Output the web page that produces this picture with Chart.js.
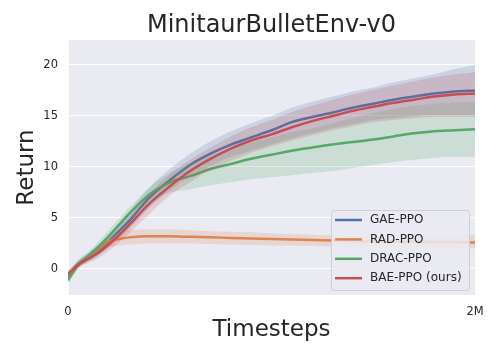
<!DOCTYPE html>
<html lang="en">
<head>
  <meta charset="UTF-8">
  <title>MinitaurBulletEnv-v0</title>
  <script src="https://cdn.jsdelivr.net/npm/chart.js"></script>
  <style>
    body {
      margin: 0;
      background: #ffffff;
    }
    #chart {
      display: block;
    }
  </style>
</head>
<body>
  <canvas id="chart" width="498" height="360"></canvas>

  <script>
    // timesteps in millions
    const steps = [0, 0.05, 0.1, 0.15, 0.2, 0.25, 0.3, 0.4, 0.5, 0.6, 0.7, 0.8, 0.9, 1.0, 1.1, 1.2, 1.3, 1.4, 1.5, 1.6, 1.7, 1.8, 1.9, 2.0];

    const seriesNames = ['GAE-PPO', 'RAD-PPO', 'DRAC-PPO', 'BAE-PPO (ours)'];

    const gaeMean  = [-0.7, 0.5, 1.1, 1.8, 2.7, 3.7, 4.7, 7.0, 8.7, 10.2, 11.3, 12.2, 12.9, 13.6, 14.4, 14.9, 15.35, 15.8, 16.2, 16.6, 16.9, 17.2, 17.4, 17.5];
    const gaeUpper = [-0.3, 0.9, 1.6, 2.4, 3.4, 4.5, 5.6, 8.0, 9.8, 11.3, 12.5, 13.5, 14.3, 15.0, 15.8, 16.4, 16.9, 17.4, 17.8, 18.3, 18.7, 19.1, 19.6, 20.0];
    const gaeLower = [-1.1, 0.2, 0.7, 1.3, 2.1, 3.0, 3.9, 6.0, 7.7, 9.1, 10.1, 11.0, 11.6, 12.2, 12.8, 13.3, 13.8, 14.2, 14.6, 14.8, 15.0, 15.1, 15.1, 15.1];

    const radMean  = [-0.6, 0.4, 1.1, 1.9, 2.7, 2.95, 3.1, 3.2, 3.2, 3.15, 3.1, 3.05, 3.0, 2.95, 2.9, 2.85, 2.8, 2.75, 2.7, 2.7, 2.7, 2.65, 2.65, 2.6];
    const radUpper = [-0.3, 0.7, 1.4, 2.3, 3.2, 3.5, 3.8, 3.9, 3.9, 3.8, 3.7, 3.65, 3.6, 3.5, 3.4, 3.35, 3.3, 3.25, 3.25, 3.3, 3.3, 3.3, 3.3, 3.3];
    const radLower = [-0.9, 0.1, 0.8, 1.5, 2.1, 2.3, 2.4, 2.5, 2.5, 2.5, 2.45, 2.4, 2.35, 2.3, 2.3, 2.25, 2.2, 2.15, 2.1, 2.1, 2.05, 2.0, 2.0, 2.0];

    const dracMean  = [-1.1, 0.4, 1.3, 2.2, 3.2, 4.3, 5.4, 7.3, 8.5, 9.1, 9.8, 10.3, 10.8, 11.2, 11.6, 11.9, 12.2, 12.45, 12.7, 13.0, 13.3, 13.5, 13.6, 13.7];
    const dracUpper = [-0.7, 0.8, 1.7, 2.7, 3.8, 4.9, 6.0, 8.0, 9.4, 10.4, 11.1, 11.8, 12.4, 12.9, 13.4, 13.8, 14.3, 14.8, 15.3, 15.7, 16.0, 16.2, 16.3, 16.4];
    const dracLower = [-1.5, 0.0, 0.9, 1.7, 2.6, 3.7, 4.8, 6.5, 7.5, 7.8, 8.2, 8.5, 8.8, 9.0, 9.2, 9.4, 9.6, 9.9, 10.2, 10.5, 10.7, 10.9, 11.0, 11.0];

    const baeMean  = [-0.5, 0.4, 1.0, 1.6, 2.4, 3.3, 4.3, 6.4, 8.1, 9.6, 10.8, 11.8, 12.6, 13.2, 13.9, 14.5, 15.0, 15.5, 15.9, 16.3, 16.6, 16.9, 17.1, 17.2];
    const baeUpper = [-0.1, 0.7, 1.4, 2.1, 3.0, 4.0, 5.1, 7.4, 9.3, 10.7, 11.9, 13.0, 13.9, 14.6, 15.4, 16.0, 16.6, 17.1, 17.6, 18.0, 18.4, 18.8, 19.1, 19.3];
    const baeLower = [-0.9, 0.1, 0.6, 1.1, 1.8, 2.6, 3.5, 5.4, 7.2, 8.5, 9.7, 10.6, 11.4, 12.0, 12.6, 13.1, 13.6, 14.0, 14.4, 14.6, 14.8, 14.9, 14.9, 14.9];

    const yTicks = [0, 5, 10, 15, 20];
    const xTicks = [0, 2];
    const xTickLabels = ['0', '2M'];

    const colors = ['#4c72b0', '#dd8452', '#55a868', '#c44e52'];
    const bandColors = ['rgba(76,114,176,0.2)', 'rgba(221,132,82,0.2)', 'rgba(85,168,104,0.2)', 'rgba(196,78,82,0.2)'];
    const means = [gaeMean, radMean, dracMean, baeMean];
    const uppers = [gaeUpper, radUpper, dracUpper, baeUpper];
    const lowers = [gaeLower, radLower, dracLower, baeLower];

    const textColor = '#262626';
    const fontFamily = "'DejaVu Sans', sans-serif";

    const pts = arr => arr.map((v, i) => ({ x: steps[i], y: v }));

    const datasets = [];
    seriesNames.forEach((name, i) => {
      const base = (3 - i) * 3;
      datasets.push({
        label: name + ' lower',
        data: pts(lowers[i]),
        borderColor: 'transparent',
        borderWidth: 0,
        pointRadius: 0,
        fill: false,
        cubicInterpolationMode: 'monotone',
        order: base + 2
      });
      datasets.push({
        label: name + ' band',
        data: pts(uppers[i]),
        borderColor: 'transparent',
        borderWidth: 0,
        pointRadius: 0,
        backgroundColor: bandColors[i],
        fill: '-1',
        cubicInterpolationMode: 'monotone',
        order: base + 1
      });
      datasets.push({
        label: name,
        data: pts(means[i]),
        borderColor: colors[i],
        borderWidth: 2.5,
        pointRadius: 0,
        fill: false,
        cubicInterpolationMode: 'monotone',
        order: base
      });
    });

    // grey plot background
    const plotBackground = {
      id: 'plotBackground',
      beforeDraw(chart) {
        const { ctx, chartArea: a } = chart;
        ctx.save();
        ctx.fillStyle = '#eaeaf2';
        ctx.fillRect(a.left, a.top, a.right - a.left, a.bottom - a.top);
        ctx.restore();
      }
    };

    // legend inside the plot, lower right
    const innerLegend = {
      id: 'innerLegend',
      afterDraw(chart) {
        const { ctx, chartArea: a } = chart;
        const w = 138, h = 80;
        const x = a.right - 6 - w, y = a.bottom - 5 - h;
        ctx.save();
        ctx.beginPath();
        ctx.roundRect(x + 0.5, y + 0.5, w, h, 3);
        ctx.fillStyle = 'rgba(234,234,242,0.85)';
        ctx.fill();
        ctx.strokeStyle = 'rgba(204,204,204,0.9)';
        ctx.lineWidth = 1;
        ctx.stroke();
        ctx.font = '12px ' + fontFamily;
        ctx.textBaseline = 'middle';
        seriesNames.forEach((name, i) => {
          const ry = y + 10 + i * 19.4;
          ctx.strokeStyle = colors[i];
          ctx.lineWidth = 2.5;
          ctx.beginPath();
          ctx.moveTo(x + 4, ry);
          ctx.lineTo(x + 31, ry);
          ctx.stroke();
          ctx.fillStyle = textColor;
          ctx.fillText(name, x + 39, ry);
        });
        ctx.restore();
      }
    };

    new Chart(document.getElementById('chart'), {
      type: 'line',
      data: { datasets },
      plugins: [plotBackground, innerLegend],
      options: {
        responsive: false,
        animation: false,
        devicePixelRatio: 1,
        layout: { padding: { top: 0, right: 23, bottom: 0, left: 0 } },
        plugins: {
          legend: { display: false },
          tooltip: { enabled: false },
          title: {
            display: true,
            text: 'MinitaurBulletEnv-v0',
            fullSize: false,
            color: textColor,
            font: { family: fontFamily, size: 24, weight: 'normal', lineHeight: 1.15 },
            padding: { top: 12.4, bottom: 0 }
          }
        },
        scales: {
          x: {
            type: 'linear',
            min: 0,
            max: 2,
            afterBuildTicks: s => { s.ticks = xTicks.map(v => ({ value: v })); },
            afterFit: s => { s.height = 65; },
            grid: { color: '#ffffff', lineWidth: 1, drawTicks: false },
            border: { display: false },
            ticks: {
              color: textColor,
              padding: 10,
              maxRotation: 0,
              font: { family: fontFamily, size: 11.5 },
              callback: v => xTickLabels[xTicks.indexOf(v)]
            },
            title: {
              display: true,
              text: 'Timesteps',
              color: textColor,
              font: { family: fontFamily, size: 23 },
              padding: { top: 0, bottom: 16 }
            }
          },
          y: {
            min: -2.55,
            max: 22.45,
            afterBuildTicks: s => { s.ticks = yTicks.map(v => ({ value: v })); },
            afterFit: s => { s.width = 68; },
            grid: { color: '#ffffff', lineWidth: 1, drawTicks: false },
            border: { display: false },
            ticks: {
              color: textColor,
              padding: 10,
              font: { family: fontFamily, size: 11.5 }
            },
            title: {
              display: true,
              text: 'Return',
              color: textColor,
              font: { family: fontFamily, size: 23 },
              padding: { top: 13, bottom: 0 }
            }
          }
        }
      }
    });
  </script>
</body>
</html>
